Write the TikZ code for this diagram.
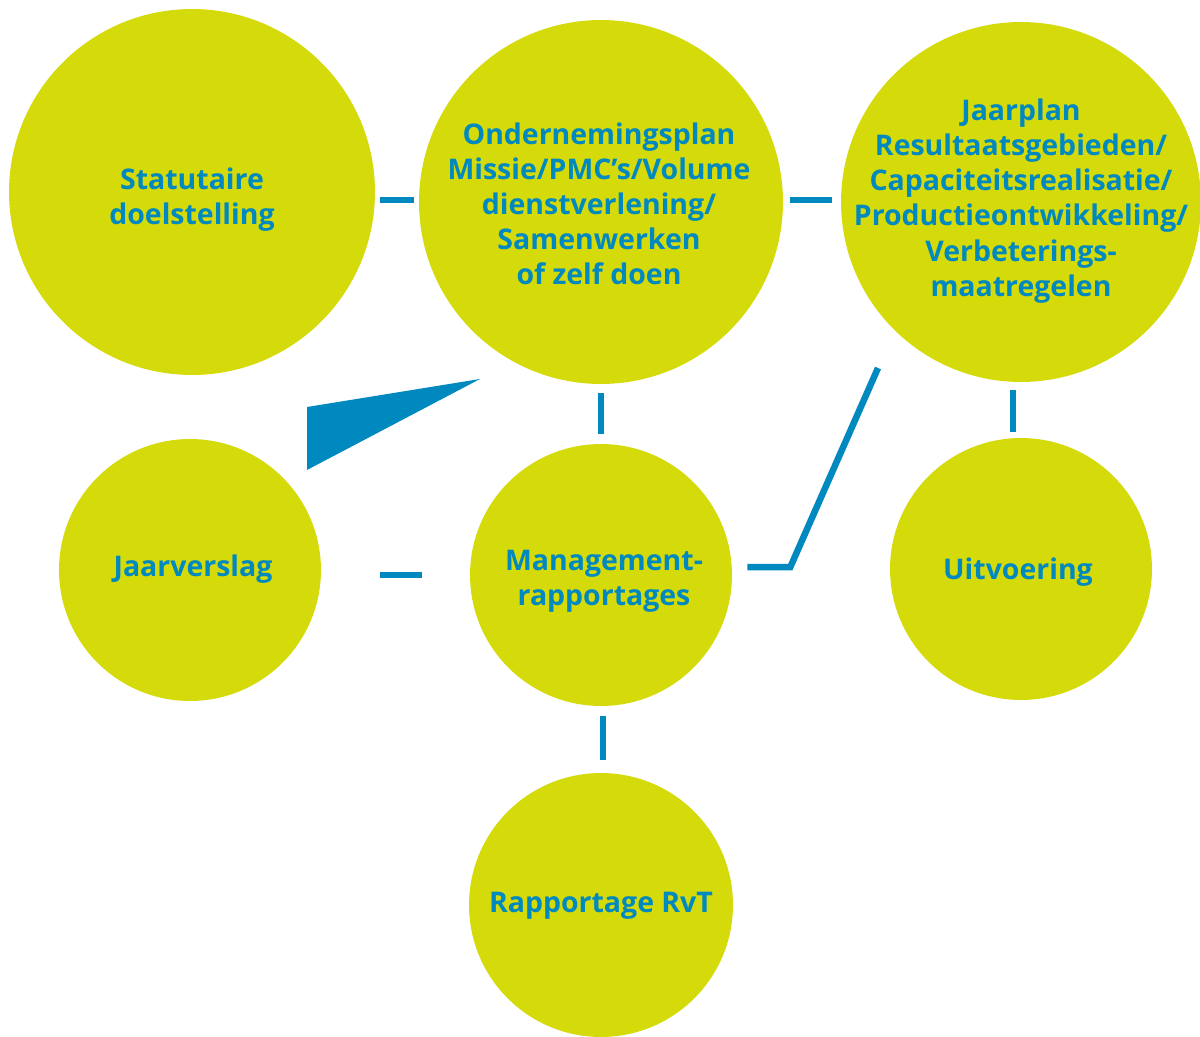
\documentclass[tikz,border=0pt]{standalone}
\usepackage{fontspec}
\setmainfont{Open Sans}
\definecolor{bubblegreen}{HTML}{D5DA0B}
\definecolor{linkblue}{HTML}{0089BF}
\tikzset{
  bubble/.style={circle, fill=bubblegreen, inner sep=0pt, align=center,
    text=linkblue, font=\bfseries\fontsize{16.2}{20}\selectfont},
  link/.style={draw=linkblue, line width=0.13cm},
}
\begin{document}
\begin{tikzpicture}[x=0.02cm, y=-0.02cm]
\useasboundingbox (0,0) rectangle (1200,1037);

% circles
\node[bubble, minimum size=7.32cm] (stat) at (192,192) {};
\node[bubble, minimum size=7.28cm] (ond) at (601,202) {};
\node[bubble, minimum size=7.2cm] (jp) at (1021,202) {};
\node[bubble, minimum size=5.24cm] (jv) at (190,570) {};
\node[bubble, minimum size=5.24cm] (mgmt) at (601,575) {};
\node[bubble, minimum size=5.24cm] (uit) at (1021,569) {};
\node[bubble, minimum size=5.28cm] (rvt) at (601,905) {};

% labels
\node[bubble, fill=none] (statlbl) at (192,200) {Statutaire\\doelstelling};
\node[bubble, fill=none] (ondlbl) at (599,204) {Ondernemingsplan\\Missie/PMC’s/Volume\\dienstverlening/\\Samenwerken\\of zelf doen};
\node[bubble, fill=none] (jplbl) at (1021,201) {Jaarplan\\Resultaatsgebieden/\\Capaciteitsrealisatie/\\Productieontwikkeling/\\Verbeterings-\\maatregelen};
\node[bubble, fill=none] (jvlbl) at (193,569) {Jaarverslag};
\node[bubble, fill=none] (mgmtlbl) at (604,581) {Management-\\rapportages};
\node[bubble, fill=none] (uitlbl) at (1018,572) {Uitvoering};
\node[bubble, fill=none] (rvtlbl) at (601,906) {Rapportage RvT};

% connectors
\draw[link] ([shift={(5,8)}]stat.east) -- ([shift={(-5,-2)}]ond.west);
\draw[link] ([shift={(7,-2)}]ond.east) -- ([shift={(-9,-2)}]jp.west);
\draw[link] ([shift={(0,9)}]ond.south) -- ([shift={(0,-10)}]mgmt.north);
\draw[link] ([shift={(-8,8)}]jp.south) -- ([shift={(-8,-6)}]uit.north);
\draw[link] ([shift={(59,5)}]jv.east) -- ([shift={(-48,0)}]mgmt.west);
\draw[link] ([shift={(2,10)}]mgmt.south) -- ([shift={(2,-13)}]rvt.north);
\coordinate (kink) at ([shift={(58,-8)}]mgmt.east);
\draw[link] ([shift={(15,-8)}]mgmt.east) -- (kink) -- ([shift={(-143,166)}]jp.center);

% wedge between annual report and business plan
\fill[linkblue] ([shift={(117,-163)}]jv.center) -- ([shift={(-121,177)}]ond.center) -- ([shift={(117,-100)}]jv.center) -- cycle;
\end{tikzpicture}
\end{document}
